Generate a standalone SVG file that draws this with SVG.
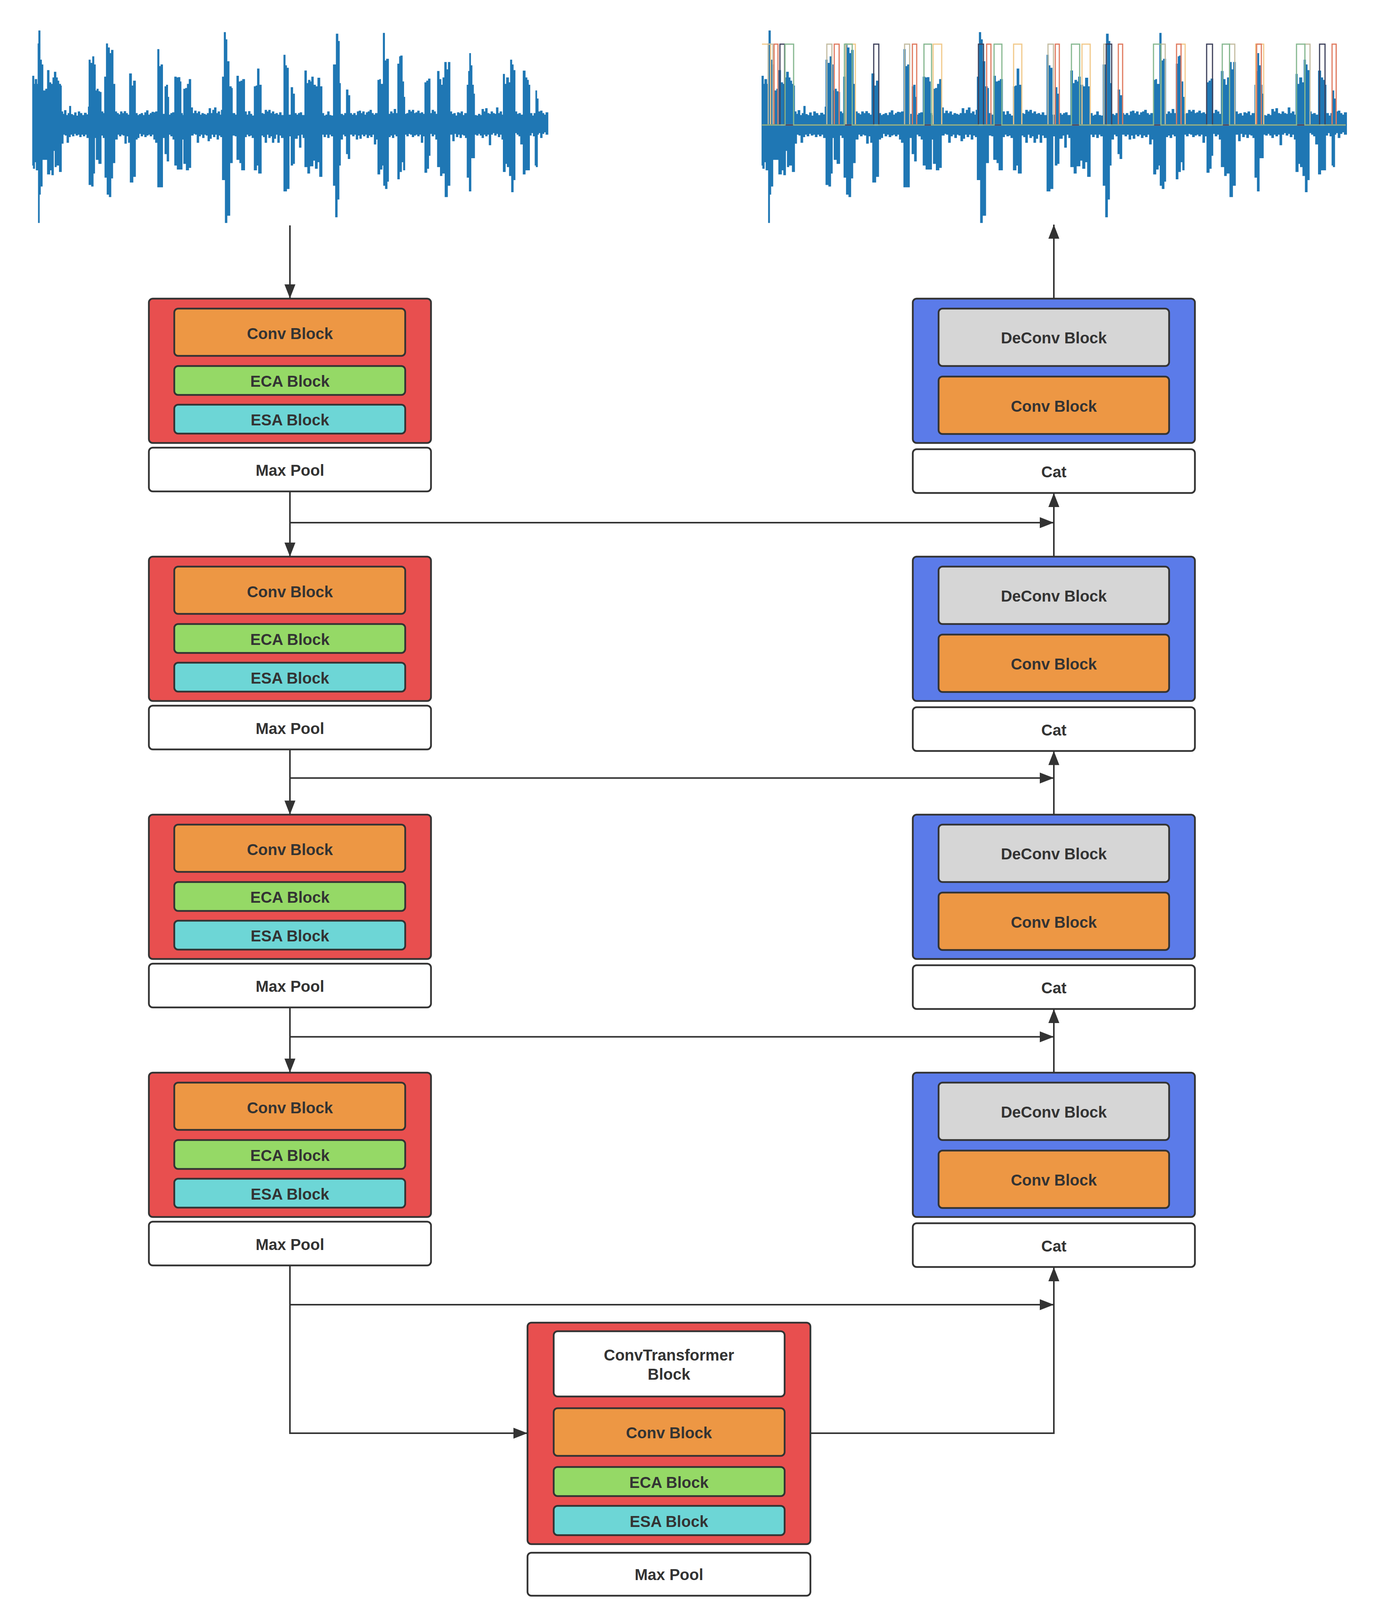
<svg xmlns="http://www.w3.org/2000/svg" xmlns:xlink="http://www.w3.org/1999/xlink" width="3524" height="4219" viewBox="0 0 3524 4219">
<style>
.bx{stroke:#333;stroke-width:4.5}
.red{fill:#e84f4f}.blue{fill:#5b7be9}.org{fill:#ed9744}.grn{fill:#95d966}.cyn{fill:#6dd6d6}.gry{fill:#d6d6d6}.wht{fill:#fff}
text{font-family:"Liberation Sans",Arial,sans-serif;font-weight:bold;font-size:40px;fill:#333;text-anchor:middle}
.cn{fill:none;stroke:#333;stroke-width:4}
.lb{fill:none;stroke-width:3;stroke-linejoin:miter}
.wv{fill:#1f77b4;stroke:#1f77b4;stroke-width:1.5}
</style>
<defs>
<marker id="ah" markerUnits="userSpaceOnUse" markerWidth="36" markerHeight="28" refX="36" refY="14" orient="auto" overflow="visible"><path d="M0,0 L36,14 L0,28 Z" fill="#333"/></marker>
<path id="wave" vector-effect="non-scaling-stroke" d="M90,775 V470 H94 V520 H97 V490 H102 V520 H105 V270 H107 V190 H111 V370 H115 V400 H119 V560 H126 V550 H131 V435 H136 V510 H141 V520 H146 V480 H150 V445 H155 V480 H159 V500 H163 V520 H168 V530 H170 V690 H174 V705 H178 V682 H183 V712 H188 V700 H192 V656 H196 V706 H201 V712 H206 V696 H211 V716 H216 V690 H221 V700 H227 V712 H233 V698 H239 V708 H244 V660 H246 V370 H250 V390 H256 V350 H260 V400 H264 V560 H268 V550 H272 V565 H276 V570 H280 V690 H285 V700 H289 V475 H294 V270 H298 V295 H303 V330 H308 V310 H313 V520 H318 V690 H323 V700 H328 V708 H333 V690 H338 V700 H343 V688 H348 V700 H353 V710 H358 V455 H364 V530 H369 V500 H375 V700 H380 V712 H385 V706 H390 V700 H395 V712 H400 V695 H405 V683 H410 V710 H415 V700 H420 V692 H425 V695 H430 V690 H436 V305 H440 V410 H445 V400 H450 V705 H456 V535 H460 V525 H464 V600 H467 V710 H472 V700 H477 V695 H483 V475 H488 V480 H493 V478 H498 V505 H501 V700 H505 V712 H508 V550 H513 V545 H518 V520 H523 V490 H528 V665 H533 V700 H538 V685 H543 V700 H548 V690 H553 V710 H558 V700 H563 V705 H568 V710 H573 V700 H578 V670 H583 V700 H588 V680 H593 V665 H598 V700 H603 V690 H608 V710 H612 V680 H615 V475 H620 V200 H624 V245 H628 V380 H634 V535 H640 V545 H643 V700 H650 V710 H655 V470 H660 V505 H666 V500 H671 V490 H677 V690 H682 V710 H687 V688 H692 V705 H697 V715 H703 V535 H708 V530 H712 V425 H717 V525 H723 V700 H728 V705 H733 V680 H738 V690 H743 V680 H748 V700 H753 V690 H758 V705 H763 V700 H768 V710 H773 V695 H778 V712 H785 V340 H789 V405 H793 V420 H798 V710 H805 V540 H810 V580 H815 V700 H820 V710 H825 V700 H830 V695 H835 V712 H843 V437 H848 V515 H853 V495 H858 V505 H862 V475 H867 V525 H873 V535 H879 V482 H885 V535 H891 V700 H896 V715 H901 V710 H906 V690 H911 V712 H916 V715 H922 V400 H930 V210 H935 V255 H939 V515 H942 V705 H948 V712 H953 V700 H958 V555 H963 V590 H968 V700 H973 V710 H978 V700 H983 V712 H988 V690 H993 V685 H998 V700 H1003 V690 H1008 V710 H1013 V695 H1018 V690 H1023 V680 H1028 V700 H1033 V710 H1038 V700 H1045 V495 H1050 V490 H1053 V520 H1060 V205 H1064 V375 H1069 V365 H1075 V705 H1080 V690 H1085 V700 H1090 V675 H1095 V700 H1100 V395 H1105 V350 H1108 V345 H1113 V505 H1117 V600 H1120 V705 H1125 V700 H1130 V680 H1135 V690 H1140 V680 H1145 V700 H1150 V695 H1155 V685 H1160 V700 H1165 V695 H1170 V705 H1175 V510 H1180 V500 H1185 V487 H1190 V700 H1195 V680 H1200 V690 H1205 V705 H1210 V440 H1215 V490 H1220 V525 H1225 V480 H1230 V385 H1235 V430 H1240 V385 H1245 V690 H1250 V705 H1255 V700 H1260 V715 H1265 V695 H1270 V700 H1275 V690 H1280 V712 H1285 V700 H1292 V525 H1296 V440 H1299 V330 H1302 V405 H1306 V525 H1310 V580 H1313 V712 H1318 V715 H1323 V705 H1328 V712 H1333 V675 H1338 V690 H1343 V670 H1348 V700 H1353 V705 H1358 V690 H1363 V700 H1368 V705 H1373 V665 H1378 V700 H1383 V690 H1388 V710 H1392 V458 H1396 V520 H1401 V480 H1407 V510 H1412 V370 H1416 V400 H1420 V435 H1425 V690 H1430 V705 H1435 V700 H1440 V710 H1447 V438 H1453 V480 H1458 V495 H1462 V525 H1466 V700 H1472 V715 H1477 V700 H1482 V560 H1485 V610 H1489 V690 H1495 V685 H1500 V700 H1505 V710 H1510 V695 H1516 V830 H1510 V815 H1505 V825 H1500 V850 H1495 V820 H1490 V830 H1487 V1030 H1483 V1020 H1480 V840 H1475 V820 H1470 V835 H1465 V1050 H1458 V1050 H1453 V1075 H1447 V890 H1440 V840 H1435 V830 H1430 V820 H1425 V1110 H1420 V1185 H1415 V1085 H1409 V1030 H1403 V1010 H1398 V1060 H1392 V860 H1388 V830 H1383 V845 H1378 V825 H1373 V835 H1368 V820 H1363 V830 H1358 V895 H1353 V830 H1348 V840 H1343 V830 H1338 V850 H1333 V835 H1328 V825 H1323 V835 H1318 V830 H1313 V975 H1303 V1180 H1298 V1095 H1292 V850 H1287 V835 H1282 V830 H1277 V850 H1272 V830 H1267 V845 H1262 V825 H1257 V870 H1252 V830 H1245 V1145 H1238 V1215 H1231 V1070 H1223 V1085 H1218 V1030 H1210 V860 H1205 V830 H1200 V840 H1195 V825 H1190 V960 H1186 V1040 H1181 V1065 H1175 V840 H1170 V880 H1165 V830 H1160 V840 H1155 V830 H1150 V835 H1145 V845 H1140 V830 H1135 V825 H1130 V840 H1125 V830 H1120 V1050 H1116 V1000 H1111 V1060 H1105 V1105 H1100 V840 H1095 V830 H1090 V850 H1085 V835 H1080 V845 H1075 V1120 H1071 V1165 H1066 V1145 H1061 V1020 H1057 V1045 H1051 V1075 H1045 V860 H1040 V890 H1035 V830 H1030 V845 H1025 V835 H1020 V850 H1015 V830 H1010 V840 H1005 V830 H1000 V855 H995 V835 H990 V860 H985 V830 H980 V840 H975 V830 H968 V980 H963 V950 H958 V840 H953 V830 H948 V860 H942 V1020 H938 V1230 H933 V1340 H928 V1145 H922 V840 H916 V830 H911 V850 H906 V830 H901 V845 H896 V830 H891 V1090 H884 V1000 H878 V1040 H872 V990 H866 V1025 H857 V1070 H851 V1030 H843 V850 H838 V830 H833 V910 H828 V835 H823 V855 H815 V1010 H810 V1020 H805 V840 H800 V1165 H793 V1180 H785 V850 H778 V835 H773 V880 H768 V830 H763 V855 H758 V880 H753 V840 H748 V850 H743 V830 H738 V880 H733 V845 H728 V835 H723 V1070 H715 V1020 H710 V1050 H703 V850 H697 V835 H692 V840 H687 V830 H682 V845 H677 V1050 H668 V1005 H663 V985 H655 V840 H650 V835 H643 V1005 H636 V1330 H628 V1375 H623 V1110 H615 V845 H610 V835 H605 V860 H600 V830 H595 V845 H590 V830 H585 V855 H580 V870 H575 V835 H570 V830 H565 V850 H560 V830 H555 V840 H550 V880 H545 V830 H540 V825 H535 V835 H528 V1035 H522 V1050 H515 V1010 H508 V860 H504 V1045 H496 V1045 H490 V1020 H483 V860 H478 V840 H472 V830 H467 V995 H462 V950 H456 V850 H450 V1155 H442 V1155 H436 V880 H430 V860 H425 V830 H420 V840 H415 V830 H410 V835 H405 V845 H400 V830 H395 V840 H390 V825 H385 V850 H380 V860 H375 V1090 H368 V1125 H360 V880 H355 V840 H350 V885 H345 V835 H340 V830 H335 V840 H330 V830 H325 V860 H318 V1005 H312 V1100 H307 V1215 H302 V1200 H296 V1095 H290 V850 H285 V835 H280 V1010 H273 V985 H266 V850 H262 V1070 H258 V1150 H253 V1140 H246 V850 H240 V830 H235 V840 H230 V830 H225 V845 H220 V830 H215 V835 H210 V825 H205 V840 H200 V830 H195 V845 H190 V880 H185 V835 H180 V830 H175 V885 H170 V1060 H164 V1020 H160 V1020 H156 V1030 H152 V930 H148 V1080 H143 V1050 H138 V1075 H131 V985 H121 V985 H117 V1150 H112 V1200 H109 V1375 H106 V1050 H100 V1000 H96 V1040 H92 V1020 H90 Z"/>
</defs>
<rect width="3524" height="4219" fill="#fff"/>
<g id="input-signal">
<use xlink:href="#wave" class="wv" transform="scale(0.9251,0.4146)"/>
</g>
<g id="output-signal">
<use xlink:href="#wave" class="wv" transform="translate(1855.25,0) scale(1.04951,0.4146)"/>
<g id="labels">
<path class="lb" stroke="#f2c98a" d="M1950,113 H1972 V320 H2165 V113 H2189 V320 H2388 V113 H2410 V320 H2594 V113 H2615 V320 H2769 V113 H2790 V320 H3022.5 V113 H3033 V320 H3213.5 V113 H3234 V320 H3444"/>
<path class="lb" stroke="#c4bda2" d="M1950,320 H1966 V113 H1978 V320 H2116 V113 H2129 V320 H2315 V113 H2328 V320 H2682 V113 H2696 V320 H2825 V113 H2831.5 V320 H2971 V113 H2982 V320 H3146.6 V113 H3160 V320 H3339.5 V113 H3352.6 V320 H3444"/>
<path class="lb" stroke="#e07a5f" d="M1950,320 H1981 V113 H1991 V320 H2135 V113 H2147.5 V320 H2335 V113 H2346 V320 H2525 V113 H2536 V320 H2700.7 V113 H2711 V320 H2862 V113 H2873 V320 H3011 V113 H3022.5 V320 H3216 V113 H3228 V320 H3409 V113 H3419.5 V320 H3444"/>
<path class="lb" stroke="#3d405b" d="M1950,320 H1996 V113 H2008 V320 H2236 V113 H2249 V320 H2504 V113 H2517 V320 H2831 V113 H2845 V320 H3088 V113 H3103 V320 H3377 V113 H3391 V320 H3444"/>
<path class="lb" stroke="#86b890" d="M1950,320 H2009 V113 H2031 V320 H2161 V113 H2181 V320 H2364.6 V113 H2384 V320 H2544 V113 H2564 V320 H2742 V113 H2763 V320 H2952 V113 H2971 V320 H3128 V113 H3146.6 V320 H3318 V113 H3339.5 V320 H3444"/>
</g>
</g>
<g id="connectors">
<path class="cn" marker-end="url(#ah)" d="M742,577 V764"/>
<path class="cn" marker-end="url(#ah)" d="M742,1258 V1425"/>
<path class="cn" marker-end="url(#ah)" d="M742,1918.5 V2085.5"/>
<path class="cn" marker-end="url(#ah)" d="M742,2579 V2746"/>
<path class="cn" marker-end="url(#ah)" d="M742,3239.5 V3669 H1350"/>
<path class="cn" marker-end="url(#ah)" d="M2074,3669 H2697 V3244"/>
<path class="cn" marker-end="url(#ah)" d="M742,1338 H2697"/>
<path class="cn" marker-end="url(#ah)" d="M742,1991.7 H2697"/>
<path class="cn" marker-end="url(#ah)" d="M742,2654.3 H2697"/>
<path class="cn" marker-end="url(#ah)" d="M742,3340 H2697"/>
<path class="cn" marker-end="url(#ah)" d="M2697,1425 V1262"/>
<path class="cn" marker-end="url(#ah)" d="M2697,2085.5 V1922.5"/>
<path class="cn" marker-end="url(#ah)" d="M2697,2746 V2583"/>
<path class="cn" marker-end="url(#ah)" d="M2697,764.5 V575"/>
</g>
<g id="enc1">
<rect class="bx red" x="381" y="764.5" width="722" height="369.5" rx="10"/>
<rect class="bx org" x="446" y="790" width="591" height="121" rx="10"/><text x="742" y="868">Conv Block</text>
<rect class="bx grn" x="446" y="937" width="591" height="74" rx="10"/><text x="742" y="990">ECA Block</text>
<rect class="bx cyn" x="446" y="1036" width="591" height="74" rx="10"/><text x="742" y="1089">ESA Block</text>
</g>
<g id="pool1"><rect class="bx wht" x="381" y="1146" width="722" height="112" rx="10"/><text x="742" y="1218">Max Pool</text></g>
<g id="enc2">
<rect class="bx red" x="381" y="1425" width="722" height="369.5" rx="10"/>
<rect class="bx org" x="446" y="1450.5" width="591" height="121" rx="10"/><text x="742" y="1528.5">Conv Block</text>
<rect class="bx grn" x="446" y="1597.5" width="591" height="74" rx="10"/><text x="742" y="1650.5">ECA Block</text>
<rect class="bx cyn" x="446" y="1696.5" width="591" height="74" rx="10"/><text x="742" y="1749.5">ESA Block</text>
</g>
<g id="pool2"><rect class="bx wht" x="381" y="1806.5" width="722" height="112" rx="10"/><text x="742" y="1878.5">Max Pool</text></g>
<g id="enc3">
<rect class="bx red" x="381" y="2085.5" width="722" height="369.5" rx="10"/>
<rect class="bx org" x="446" y="2111" width="591" height="121" rx="10"/><text x="742" y="2189">Conv Block</text>
<rect class="bx grn" x="446" y="2258" width="591" height="74" rx="10"/><text x="742" y="2311">ECA Block</text>
<rect class="bx cyn" x="446" y="2357" width="591" height="74" rx="10"/><text x="742" y="2410">ESA Block</text>
</g>
<g id="pool3"><rect class="bx wht" x="381" y="2467" width="722" height="112" rx="10"/><text x="742" y="2539">Max Pool</text></g>
<g id="enc4">
<rect class="bx red" x="381" y="2746" width="722" height="369.5" rx="10"/>
<rect class="bx org" x="446" y="2771.5" width="591" height="121" rx="10"/><text x="742" y="2849.5">Conv Block</text>
<rect class="bx grn" x="446" y="2918.5" width="591" height="74" rx="10"/><text x="742" y="2971.5">ECA Block</text>
<rect class="bx cyn" x="446" y="3017.5" width="591" height="74" rx="10"/><text x="742" y="3070.5">ESA Block</text>
</g>
<g id="pool4"><rect class="bx wht" x="381" y="3127.5" width="722" height="112" rx="10"/><text x="742" y="3199.5">Max Pool</text></g>
<g id="dec1">
<rect class="bx blue" x="2336" y="764.5" width="722" height="369.5" rx="10"/>
<rect class="bx gry" x="2402" y="790" width="590" height="147" rx="10"/><text x="2697" y="879">DeConv Block</text>
<rect class="bx org" x="2402" y="964" width="590" height="147" rx="10"/><text x="2697" y="1053.5">Conv Block</text>
</g>
<g id="cat1"><rect class="bx wht" x="2336" y="1150" width="722" height="112" rx="10"/><text x="2697" y="1222">Cat</text></g>
<g id="dec2">
<rect class="bx blue" x="2336" y="1425" width="722" height="369.5" rx="10"/>
<rect class="bx gry" x="2402" y="1450.5" width="590" height="147" rx="10"/><text x="2697" y="1539.5">DeConv Block</text>
<rect class="bx org" x="2402" y="1624.5" width="590" height="147" rx="10"/><text x="2697" y="1714">Conv Block</text>
</g>
<g id="cat2"><rect class="bx wht" x="2336" y="1810.5" width="722" height="112" rx="10"/><text x="2697" y="1882.5">Cat</text></g>
<g id="dec3">
<rect class="bx blue" x="2336" y="2085.5" width="722" height="369.5" rx="10"/>
<rect class="bx gry" x="2402" y="2111" width="590" height="147" rx="10"/><text x="2697" y="2200">DeConv Block</text>
<rect class="bx org" x="2402" y="2285" width="590" height="147" rx="10"/><text x="2697" y="2374.5">Conv Block</text>
</g>
<g id="cat3"><rect class="bx wht" x="2336" y="2471" width="722" height="112" rx="10"/><text x="2697" y="2543">Cat</text></g>
<g id="dec4">
<rect class="bx blue" x="2336" y="2746" width="722" height="369.5" rx="10"/>
<rect class="bx gry" x="2402" y="2771.5" width="590" height="147" rx="10"/><text x="2697" y="2860.5">DeConv Block</text>
<rect class="bx org" x="2402" y="2945.5" width="590" height="147" rx="10"/><text x="2697" y="3035">Conv Block</text>
</g>
<g id="cat4"><rect class="bx wht" x="2336" y="3131.5" width="722" height="112" rx="10"/><text x="2697" y="3203.5">Cat</text></g>
<g id="bottleneck">
<rect class="bx red" x="1350" y="3386" width="724" height="567" rx="10"/>
<rect class="bx wht" x="1417" y="3408" width="591" height="167" rx="10"/><text x="1712" y="3483">ConvTransformer</text><text x="1712" y="3532">Block</text>
<rect class="bx org" x="1417" y="3605" width="591" height="122" rx="10"/><text x="1712" y="3682">Conv Block</text>
<rect class="bx grn" x="1417" y="3755.5" width="591" height="74.5" rx="10"/><text x="1712" y="3809">ECA Block</text>
<rect class="bx cyn" x="1417" y="3855" width="591" height="75" rx="10"/><text x="1712" y="3909">ESA Block</text>
</g>
<g id="pool5"><rect class="bx wht" x="1350" y="3975" width="724" height="110" rx="10"/><text x="1712" y="4045">Max Pool</text></g>
</svg>
